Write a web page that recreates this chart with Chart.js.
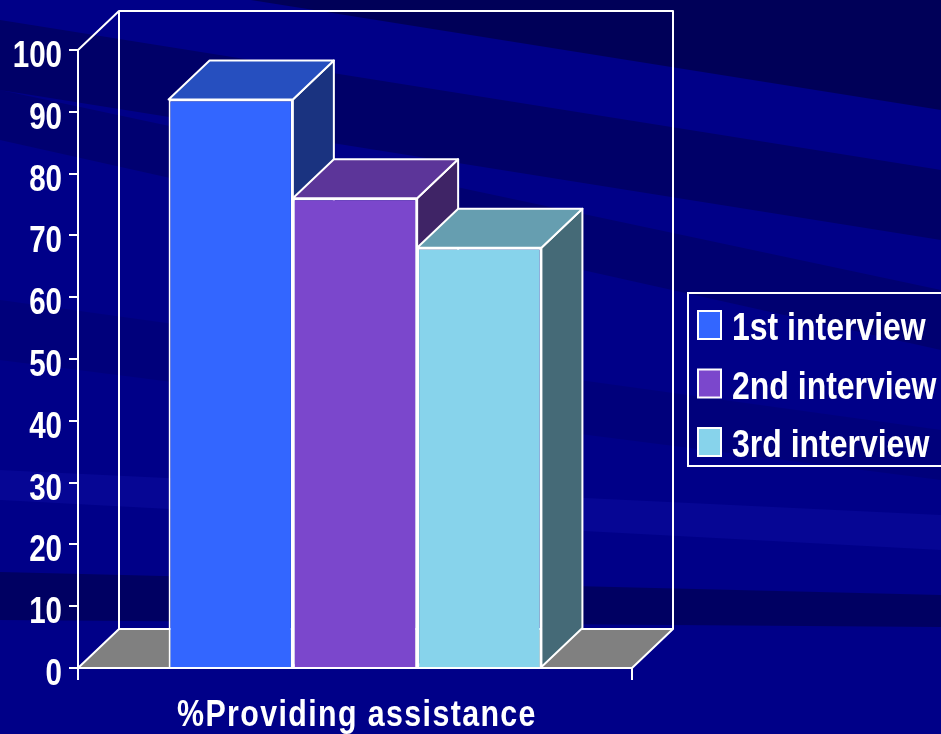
<!DOCTYPE html>
<html>
<head>
<meta charset="utf-8">
<script src="https://cdn.jsdelivr.net/npm/chart.js@4"></script>
<style>
  html, body { margin: 0; padding: 0; background: #000088; }
  canvas { display: block; }
</style>
</head>
<body>
<canvas id="myChart" width="941" height="734"></canvas>
<script>
// data
const categories = ['%Providing assistance'];
const seriesNames = ['1st interview', '2nd interview', '3rd interview'];
const seriesValues = [92, 76, 68];

// front / top / side colours for each box
const frontColors = ['#3366ff', '#7b47cc', '#87d3eb'];
const topColors = ['#264fbf', '#5c3599', '#669eb0'];
const sideColors = ['#1a3380', '#3f2466', '#456a77'];

const FONT = "'Liberation Sans', Arial, sans-serif";
const DX = 41, DY = -39;   // depth of the 3d box

// diagonal streaks of the slide background
const streaks = [
  { a: [-120, -40], b: [0, 110], c: 'rgba(0,0,30,0.45)' },
  { a: [20, 90], b: [170, 240], c: 'rgba(0,0,30,0.3)' },
  { a: [90, 140], b: [290, 350], c: 'rgba(0,0,30,0.22)' },
  { a: [300, 360], b: [430, 480], c: 'rgba(0,0,30,0.12)' },
  { a: [470, 500], b: [515, 550], c: 'rgba(60,60,255,0.1)' },
  { a: [572, 620], b: [595, 627], c: 'rgba(0,0,30,0.35)' }
];

function poly(ctx, pts, fill) {
  ctx.beginPath();
  ctx.moveTo(pts[0][0], pts[0][1]);
  for (let i = 1; i < pts.length; i++) ctx.lineTo(pts[i][0], pts[i][1]);
  ctx.closePath();
  if (fill) { ctx.fillStyle = fill; ctx.fill(); }
  ctx.stroke();
}

// squeezed bold text, baseline at (x, y)
function narrowText(ctx, text, x, y, align, size, squeeze, spacing) {
  ctx.save();
  ctx.translate(x, y);
  ctx.scale(squeeze, 1);
  ctx.font = 'bold ' + size + 'px ' + FONT;
  ctx.letterSpacing = (spacing || 0) + 'px';
  ctx.textAlign = align;
  ctx.textBaseline = 'alphabetic';
  ctx.fillStyle = '#fff';
  ctx.fillText(text, 0, 0);
  ctx.restore();
}

const slide = {
  id: 'slide',
  beforeDraw(chart) {
    const ctx = chart.ctx, w = chart.width, h = chart.height;
    ctx.save();
    ctx.fillStyle = '#000088';
    ctx.fillRect(0, 0, w, h);
    streaks.forEach(s => {
      ctx.beginPath();
      ctx.moveTo(0, s.a[0]); ctx.lineTo(w, s.b[0]);
      ctx.lineTo(w, s.b[1]); ctx.lineTo(0, s.a[1]);
      ctx.closePath();
      ctx.fillStyle = s.c;
      ctx.fill();
    });
    ctx.restore();
  },
  beforeDatasetsDraw(chart) {
    const ctx = chart.ctx, a = chart.chartArea;
    ctx.save();
    ctx.strokeStyle = '#fff';
    ctx.lineWidth = 2;
    ctx.lineJoin = 'round';
    // floor
    poly(ctx, [[a.left, a.bottom], [a.left + DX, a.bottom + DY], [a.right + DX, a.bottom + DY], [a.right, a.bottom]], '#808080');
    // back wall and the corner edge
    ctx.beginPath();
    ctx.moveTo(a.left + DX, a.bottom + DY);
    ctx.lineTo(a.left + DX, a.top + DY);
    ctx.lineTo(a.right + DX, a.top + DY);
    ctx.lineTo(a.right + DX, a.bottom + DY);
    ctx.moveTo(a.left, a.top);
    ctx.lineTo(a.left + DX, a.top + DY);
    ctx.stroke();
    // top and side faces, left to right
    chart.data.datasets.forEach((ds, i) => {
      const bar = chart.getDatasetMeta(i).data[0];
      const l = bar.x - bar.width / 2, r = bar.x + bar.width / 2;
      const y = bar.y, b = bar.base;
      poly(ctx, [[r, y], [r + DX, y + DY], [r + DX, b + DY], [r, b]], sideColors[i]);
      poly(ctx, [[l, y], [l + DX, y + DY], [r + DX, y + DY], [r, y]], topColors[i]);
    });
    ctx.restore();
  },
  afterDraw(chart) {
    const ctx = chart.ctx;
    const ys = chart.scales.y, xs = chart.scales.x;
    // axis labels
    ys.ticks.forEach(t => {
      narrowText(ctx, String(t.value), 62, ys.getPixelForValue(t.value) + 17, 'right', 36, 0.82);
    });
    chart.data.labels.forEach((lab, i) => {
      narrowText(ctx, lab, xs.getPixelForValue(i) + 2, 726, 'center', 37, 0.82, 1.7);
    });
    // legend
    ctx.save();
    ctx.strokeStyle = '#fff';
    ctx.lineWidth = 2;
    ctx.strokeRect(688, 293, 300, 173);
    chart.data.datasets.forEach((ds, i) => {
      const top = 311 + i * 58.5;
      ctx.fillStyle = ds.backgroundColor;
      ctx.fillRect(698, top, 23, 28);
      ctx.strokeRect(698, top, 23, 28);
      narrowText(ctx, ds.label, 732, top + 29, 'left', 39, 0.82);
    });
    ctx.restore();
  }
};

const datasets = seriesNames.map((name, i) => ({
  label: name,
  data: [seriesValues[i]],
  backgroundColor: frontColors[i],
  borderColor: '#fff',
  borderWidth: 2,
  barPercentage: 1,
  categoryPercentage: 0.673
}));

const ctx = document.getElementById('myChart');
new Chart(ctx, {
  type: 'bar',
  data: { labels: categories, datasets: datasets },
  plugins: [slide],
  options: {
    responsive: false,
    animation: false,
    layout: { padding: { top: 50, right: 309, left: 0, bottom: 0 } },
    plugins: {
      legend: { display: false },
      tooltip: { enabled: false }
    },
    scales: {
      x: {
        offset: true,
        grid: { display: true, drawOnChartArea: false, color: '#fff', lineWidth: 2, tickLength: 12, offset: true },
        border: { color: '#fff', width: 2 },
        ticks: { color: 'rgba(0,0,0,0)', font: { family: FONT, size: 30, weight: 'bold' } },
        afterFit: s => { s.height = 66; }
      },
      y: {
        min: 0,
        max: 100,
        ticks: { stepSize: 10, color: 'rgba(0,0,0,0)', font: { family: FONT, size: 30, weight: 'bold' } },
        grid: { drawOnChartArea: false, color: '#fff', lineWidth: 2, tickLength: 9 },
        border: { color: '#fff', width: 2 },
        afterFit: s => { s.width = 78; }
      }
    }
  }
});
</script>
</body>
</html>
